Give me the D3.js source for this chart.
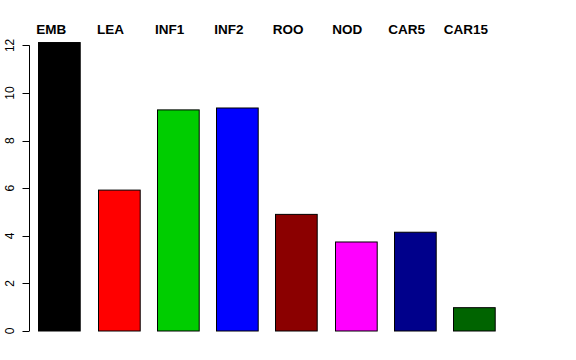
<!DOCTYPE html>
<html><head><meta charset="utf-8">
<script src="https://cdn.jsdelivr.net/npm/d3@7"></script>
<style>body{margin:0;background:#fff}svg{display:block}</style>
</head><body>
<script>
const categories = ["EMB","LEA","INF1","INF2","ROO","NOD","CAR5","CAR15"];
const values = [12.12, 5.92, 9.29, 9.37, 4.90, 3.74, 4.15, 0.98];
const colors = ["#000000","#FF0000","#00CD00","#0000FF","#8B0000","#FF00FF","#00008B","#006400"];
const yTicks = [0,2,4,6,8,10,12];

const W = 576, H = 360;
const svg = d3.select("body").append("svg").attr("width", W).attr("height", H);

const y = d3.scaleLinear().domain([0, 12]).range([331, 45.4]);
const x = d3.scaleBand().domain(categories).range([38.3, 494.7]).paddingInner(0.296).paddingOuter(0);

svg.selectAll("rect.bar").data(categories).join("rect")
  .attr("class","bar")
  .attr("x", d => Math.round(x(d)) + 0.5)
  .attr("y", (d,i) => y(values[i]))
  .attr("width", x.bandwidth())
  .attr("height", (d,i) => y(0) - y(values[i]))
  .attr("fill", (d,i) => colors[i])
  .attr("stroke", "#000").attr("stroke-width", 1);

// y axis
const ax = svg.append("g").attr("transform","translate(29.5,0)");
ax.append("line").attr("x1",0).attr("x2",0).attr("y1",y(0)).attr("y2",y(12)).attr("stroke","#000");
ax.selectAll("line.t").data(yTicks).join("line").attr("class","t")
  .attr("x1",-7).attr("x2",0).attr("y1",d=>Math.round(y(d))+0.5).attr("y2",d=>Math.round(y(d))+0.5).attr("stroke","#000");
ax.selectAll("text").data(yTicks).join("text")
  .attr("transform", d => `translate(-16,${y(d)}) rotate(-90)`)
  .attr("text-anchor","middle")
  .attr("font-family","Liberation Sans, Arial, sans-serif")
  .attr("font-size", 12)
  .text(d => d);

// top labels
svg.selectAll("text.lab").data(categories).join("text").attr("class","lab")
  .attr("x", d => x(d) + x.bandwidth()/2 - 8)
  .attr("y", 34)
  .attr("text-anchor","middle")
  .attr("font-family","Liberation Sans, Arial, sans-serif")
  .attr("font-weight","bold")
  .attr("font-size", 13.5)
  .text(d => d);
</script>
</body></html>
